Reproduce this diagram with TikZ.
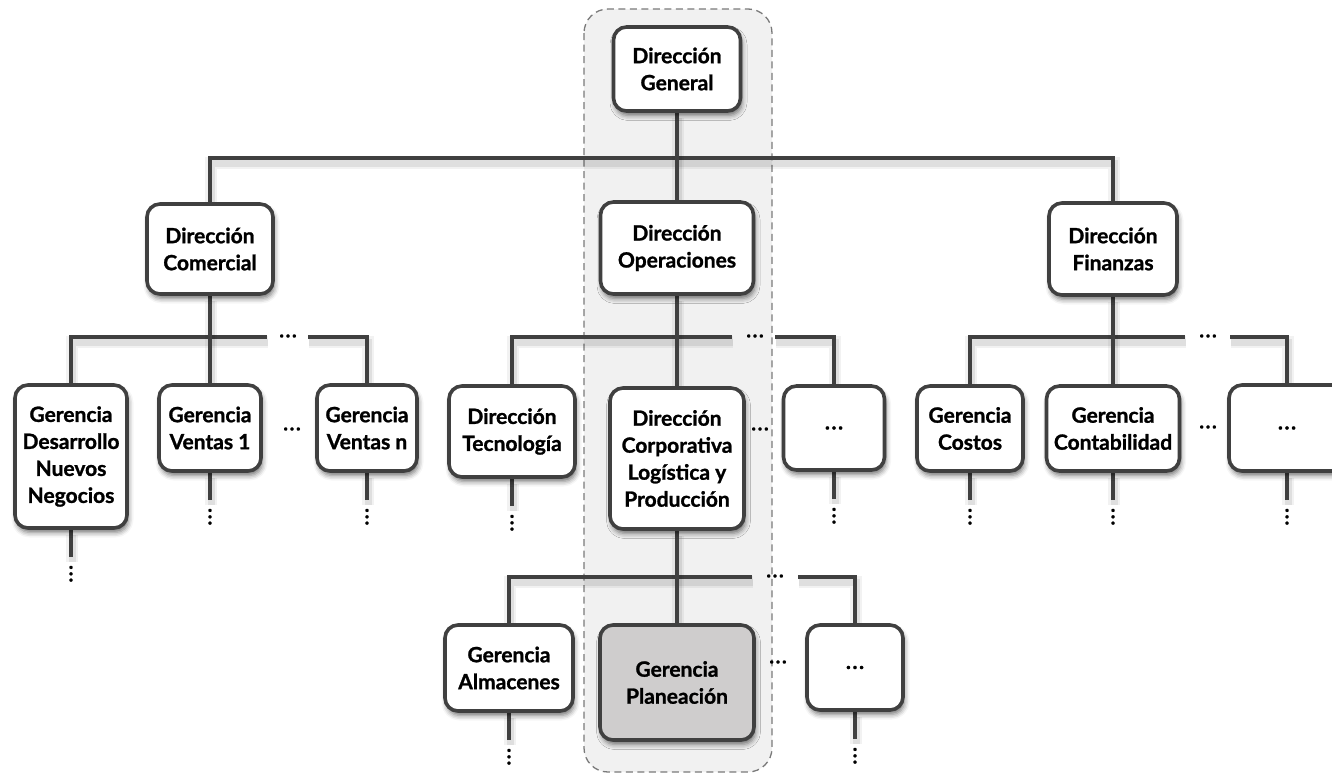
\documentclass[tikz,border=0pt]{standalone}
\usepackage{fontspec}
\setmainfont{Lato}[BoldFeatures={FakeBold=1.2}]
\usetikzlibrary{shadows,shadows.blur}

\definecolor{linegray}{HTML}{404040}
\definecolor{bandfill}{HTML}{F1F1F1}
\definecolor{dashgray}{HTML}{7A7A7A}
\definecolor{hlfill}{HTML}{CFCDCD}

\pgfdeclarelayer{band}
\pgfdeclarelayer{wires}
\pgfsetlayers{band,wires,main}

% three spaced dots
\newcommand\ellip{.\kern1.6pt.\kern1.6pt.}

\tikzset{
  unit/.style={draw=linegray, line width=3.6pt, rounded corners=13pt, fill=white,
    align=center, inner sep=0pt, font=\bfseries\fontsize{21}{27}\selectfont,
    blur shadow={shadow xshift=1.5pt, shadow yshift=-4.5pt, shadow blur radius=5pt, shadow opacity=55}},
  highlight/.style={unit, fill=hlfill},
  link/.style={draw=linegray, line width=3.6pt, line join=miter,
    preaction={draw=black, draw opacity=0.05, line width=12pt, transform canvas={xshift=1pt,yshift=-5pt}},
    preaction={draw=black, draw opacity=0.08, line width=7pt, transform canvas={xshift=1pt,yshift=-5pt}}},
  hdots/.style={inner sep=0pt, font=\bfseries\fontsize{20}{20}\selectfont},
  vdots/.style={hdots, rotate=90},
  band/.style={draw=dashgray, dash pattern=on 7pt off 4.5pt, line width=1.3pt, fill=bandfill, rounded corners=24pt}
}

% stem below a unit, ending in a column of dots
\newcommand\stubdown[1]{%
  \draw[link] (#1.south) -- ++(0,27);
  \node[vdots] (#1dots) at ([yshift=-44pt]#1.south) {\ellip};}

\begin{document}
\begin{tikzpicture}[x=1pt,y=-1pt]
\useasboundingbox (0,0) rectangle (1332,774);

% ---- units ----
\node[unit, minimum width=127, minimum height=84] (DG) at (677,69) {Dirección\\General};

\node[unit, minimum width=126, minimum height=90] (DC) at (210,249) {Dirección\\Comercial};
\node[unit, minimum width=153, minimum height=92] (DO) at (677,248) {Dirección\\Operaciones};
\node[unit, minimum width=128, minimum height=92] (DF) at (1113,249) {Dirección\\Finanzas};

\node[unit, minimum width=112, minimum height=143] (GDNN) at (71,456.5) {Gerencia\\Desarrollo\\Nuevos\\Negocios};
\node[unit, minimum width=102, minimum height=86] (GV1) at (210,428) {Gerencia\\Ventas 1};
\node[unit, minimum width=100, minimum height=86] (GVn) at (367,428) {Gerencia\\Ventas n};

\node[unit, minimum width=126, minimum height=91] (DT) at (512,431.5) {Dirección\\Tecnología};
\node[unit, minimum width=134, minimum height=141] (DCLP) at (677,458.5) {Dirección\\Corporativa\\Logística y\\Producción};
\node[unit, minimum width=101, minimum height=84] (E1) at (834,428) {\ellip};

\node[unit, minimum width=106, minimum height=85] (GCos) at (970,428.5) {Gerencia\\Costos};
\node[unit, minimum width=133, minimum height=85] (GCon) at (1113,428.5) {Gerencia\\Contabilidad};
\node[unit, minimum width=116, minimum height=86] (E2) at (1287,428) {\ellip};

\node[unit, minimum width=128, minimum height=86] (GA) at (509,668) {Gerencia\\Almacenes};
\node[highlight, minimum width=154, minimum height=115] (GP) at (677,682.5) {Gerencia\\Planeación};
\node[unit, minimum width=96, minimum height=85] (E3) at (855,667.5) {\ellip};

% ---- dots between units ----
\node[hdots] (dV) at (292,429) {\ellip};
\node[hdots] (dO) at (760,429) {\ellip};
\node[hdots] (dF) at (1208,427) {\ellip};
\node[hdots] (dP) at (778,662) {\ellip};

% ---- gaps in the buses ----
\coordinate (gCL) at (267,337);  \coordinate (gCR) at (308,337);
\coordinate (gOL) at (732,337);  \coordinate (gOR) at (775,337);
\coordinate (gFL) at (1185,337); \coordinate (gFR) at (1230,337);
\coordinate (gPL) at (752,577);  \coordinate (gPR) at (798,577);
\node[hdots] (bC) at (288,336) {\ellip};
\node[hdots] (bO) at (755,336) {\ellip};
\node[hdots] (bF) at (1208,336) {\ellip};
\node[hdots] (bP) at (775,576) {\ellip};

% ---- highlighted column ----
\begin{pgfonlayer}{band}
  \path[band] (584,9) rectangle (772,772);
\end{pgfonlayer}

% ---- connectors ----
\begin{pgfonlayer}{wires}
  \draw[link] (DC.north) -- ++(0,-44) -| (DF.north);
  \draw[link] (DG.south) -- (DO.north);

  \draw[link] (gCL) -| (GDNN.north);
  \draw[link] (gCR) -| (GVn.north);
  \draw[link] (DC.south) -- (GV1.north);

  \draw[link] (gOL) -| (DT.north);
  \draw[link] (gOR) -| (E1.north);
  \draw[link] (DO.south) -- (DCLP.north);

  \draw[link] (gFL) -| (GCos.north);
  \draw[link] (gFR) -| (E2.north);
  \draw[link] (DF.south) -- (GCon.north);

  \draw[link] (gPL) -| (GA.north);
  \draw[link] (gPR) -| (E3.north);
  \draw[link] (DCLP.south) -- (GP.north);

  \stubdown{GDNN}
  \stubdown{GV1}
  \stubdown{GVn}
  \stubdown{DT}
  \stubdown{E1}
  \stubdown{GCos}
  \stubdown{GCon}
  \stubdown{E2}
  \stubdown{GA}
  \stubdown{E3}
\end{pgfonlayer}
\end{tikzpicture}
\end{document}
